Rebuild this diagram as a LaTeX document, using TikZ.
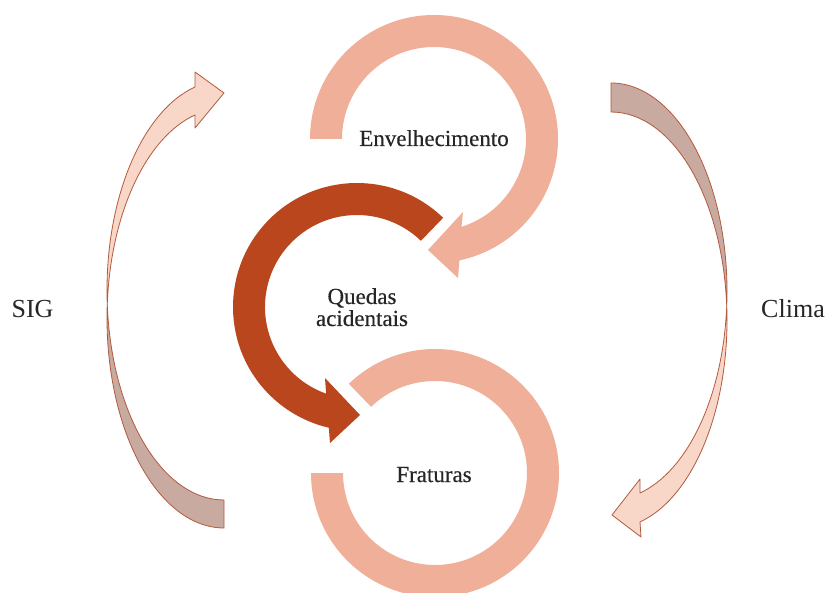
\documentclass[tikz,border=0pt]{standalone}
\usepackage{fontspec}
\setmainfont{Liberation Serif}
\newfontfamily\ringfont[FakeBold=0.35]{Liberation Serif}
\definecolor{ringL}{HTML}{F0AF98}
\definecolor{ringD}{HTML}{B9461C}
\definecolor{sideL}{HTML}{F8D6C8}
\definecolor{sideD}{HTML}{C9AAA0}
\definecolor{sideE}{HTML}{B25A3E}
\definecolor{txt}{HTML}{262626}
\begin{document}
\begin{tikzpicture}[x=1pt,y=1pt,
  ringlight/.style={fill=ringL, draw=none},
  ringdark/.style={fill=ringD, draw=none},
  sidelight/.style={fill=sideL, draw=sideE, line width=0.8pt, line join=round},
  sidedark/.style={fill=sideD, draw=sideE, line width=0.8pt, line join=round},
  lbl/.style={font=\ringfont\fontsize{23}{19}\selectfont, text=txt, inner sep=0pt, anchor=base},
  sidelbl/.style={font=\fontsize{26}{28}\selectfont, text=txt, inner sep=0pt, anchor=base}]
\useasboundingbox (0,0) rectangle (827,592);
\clip (0,0) rectangle (827,592);
\fill[white] (0,0) rectangle (827,592);

\coordinate (T) at (434,453);
\coordinate (D) at (357,285);
\coordinate (B) at (435,119);

% top ring (Envelhecimento)
\path[ringlight] ([shift={(180:124)}]T) arc[start angle=180, end angle=-78.2, radius=124]
  -- (458,314) -- (428,342) -- (463,380) -- ([shift={(-72.6:92)}]T)
  arc[start angle=-72.6, end angle=180, radius=92] -- cycle;

% dark ring (Quedas acidentais)
\path[ringdark] ([shift={(46:124)}]D) arc[start angle=46, end angle=256.85, radius=124]
  -- (330,149) -- (360,177) -- (325,214) -- ([shift={(250.4:92)}]D)
  arc[start angle=250.4, end angle=46, radius=92] -- cycle;

% bottom ring (Fraturas)
\path[ringlight] ([shift={(180:124)}]B) arc[start angle=180, end angle=494, radius=124]
  -- ([shift={(134:92)}]B) arc[start angle=134, end angle=-180, radius=92] -- cycle;

% left curved arrow (SIG): two equal ellipses offset vertically
\coordinate (L1) at (224,301.8);
\coordinate (L2) at (224,273.8);
\path[sidedark] ([shift={(176.17:117 and 209.8)}]L2)
  arc[start angle=176.17, end angle=270, x radius=117, y radius=209.8]
  -- ([shift={(270:117 and 209.8)}]L1)
  arc[start angle=270, end angle=183.83, x radius=117, y radius=209.8] -- cycle;
\path[sidelight] ([shift={(183.83:117 and 209.8)}]L1)
  arc[start angle=183.83, end angle=104.35, x radius=117, y radius=209.8]
  -- (195,520) -- (224,499) -- (195,464)
  -- ([shift={(104.35:117 and 209.8)}]L2)
  arc[start angle=104.35, end angle=176.17, x radius=117, y radius=209.8] -- cycle;

% right curved arrow (Clima)
\coordinate (RA) at (611,300.7);
\coordinate (RB) at (611,271.7);
\path[sidedark] ([shift={(90:116 and 208.3)}]RA)
  arc[start angle=90, end angle=-3.99, x radius=116, y radius=208.3]
  -- ([shift={(3.99:116 and 208.3)}]RB)
  arc[start angle=3.99, end angle=90, x radius=116, y radius=208.3] -- cycle;
\path[sidelight] ([shift={(3.99:116 and 208.3)}]RB)
  arc[start angle=3.99, end angle=-75.52, x radius=116, y radius=208.3]
  -- (641,55) -- (612,77) -- (640,113)
  -- ([shift={(-75.52:116 and 208.3)}]RA)
  arc[start angle=-75.52, end angle=-3.99, x radius=116, y radius=208.3] -- cycle;

% labels
\node[lbl] (env) at (434,446) {Envelhecimento};
\node[lbl] (qued) at (362,288) {Quedas};
\node[lbl] (acid) at (362,266) {acidentais};
\node[lbl] (frat) at (434,110) {Fraturas};
\node[sidelbl] (sig) at (32.5,274) {SIG};
\node[sidelbl] (clima) at (793,274) {Clima};
\end{tikzpicture}
\end{document}
